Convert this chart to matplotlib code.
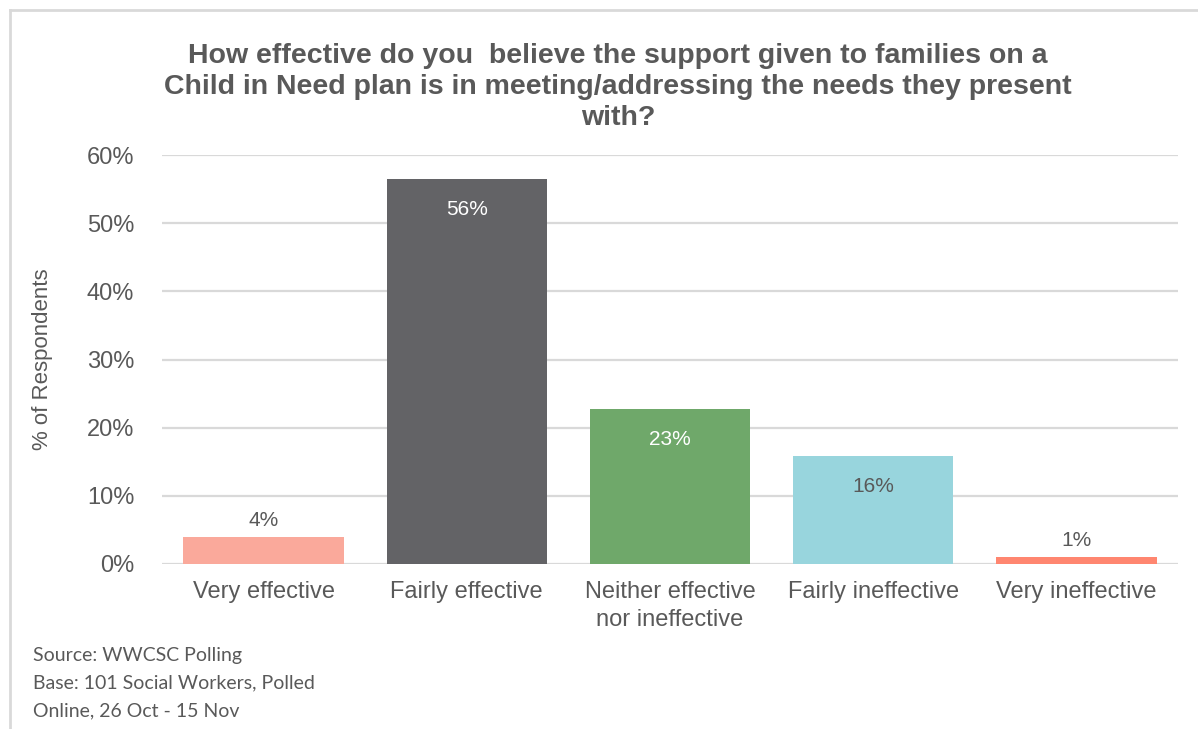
import matplotlib.pyplot as plt
from matplotlib.lines import Line2D

categories = ['Very effective', 'Fairly effective', 'Neither effective\nnor ineffective',
              'Fairly ineffective', 'Very ineffective']
values = [3.96, 56.44, 22.77, 15.84, 0.99]
labels = ['4%', '56%', '23%', '16%', '1%']
colors = ['#FAA99B', '#636366', '#6FA86A', '#98D5DD', '#FF8670']
label_colors = ['#595959', 'white', 'white', '#595959', '#595959']
label_inside = [False, True, True, True, False]

grey = '#595959'
plt.rcParams['font.family'] = ['Liberation Sans', 'DejaVu Sans']

fig = plt.figure(figsize=(11.98, 7.29), dpi=100)
ax = fig.add_axes([162 / 1198, 1 - 564 / 729, 1016 / 1198, 409 / 729])

x = list(range(len(categories)))
ax.bar(x, values, width=0.79, color=colors, zorder=3)
for i, v in enumerate(values):
    if label_inside[i]:
        ax.annotate(labels[i], (i, v), xytext=(0, -22), textcoords='offset points',
                    ha='center', va='center', color=label_colors[i], fontsize=15)
    else:
        ax.annotate(labels[i], (i, v), xytext=(0, 12), textcoords='offset points',
                    ha='center', va='center', color=label_colors[i], fontsize=15)

ax.set_xlim(-0.5, len(categories) - 0.5)
ax.set_ylim(0, 60)
ax.set_yticks(range(0, 61, 10))
ax.set_yticklabels(['%d%%' % t for t in range(0, 61, 10)])
ax.set_xticks(x)
ax.set_xticklabels(categories, linespacing=1.35)
ax.tick_params(axis='y', length=0, pad=20, labelsize=17, labelcolor=grey)
ax.tick_params(axis='x', length=0, pad=12, labelsize=17, labelcolor=grey)
ax.grid(axis='y', color='#D9D9D9', linewidth=1.6, zorder=0)
for s in ax.spines.values():
    s.set_visible(False)
ax.set_ylabel('% of Respondents', fontsize=16, color=grey, labelpad=24)

fig.text(618 / 1198, 1 - 87 / 729,
         'How effective do you  believe the support given to families on a\n'
         'Child in Need plan is in meeting/addressing the needs they present\nwith?',
         ha='center', va='center', fontsize=20.5, fontweight='bold', color=grey,
         linespacing=1.25)

fig.text(33 / 1198, 1 - 683 / 729,
         'Source: WWCSC Polling\nBase: 101 Social Workers, Polled\nOnline, 26 Oct - 15 Nov',
         ha='left', va='center', fontsize=14, color=grey, family='Lato', linespacing=1.75)

fig.add_artist(Line2D([10 / 1198, 10 / 1198], [0, 1 - 10 / 729], color='#D9D9D9', lw=2))
fig.add_artist(Line2D([10 / 1198, 1], [1 - 10 / 729, 1 - 10 / 729], color='#D9D9D9', lw=2))

fig.savefig('out.png', dpi=100)
